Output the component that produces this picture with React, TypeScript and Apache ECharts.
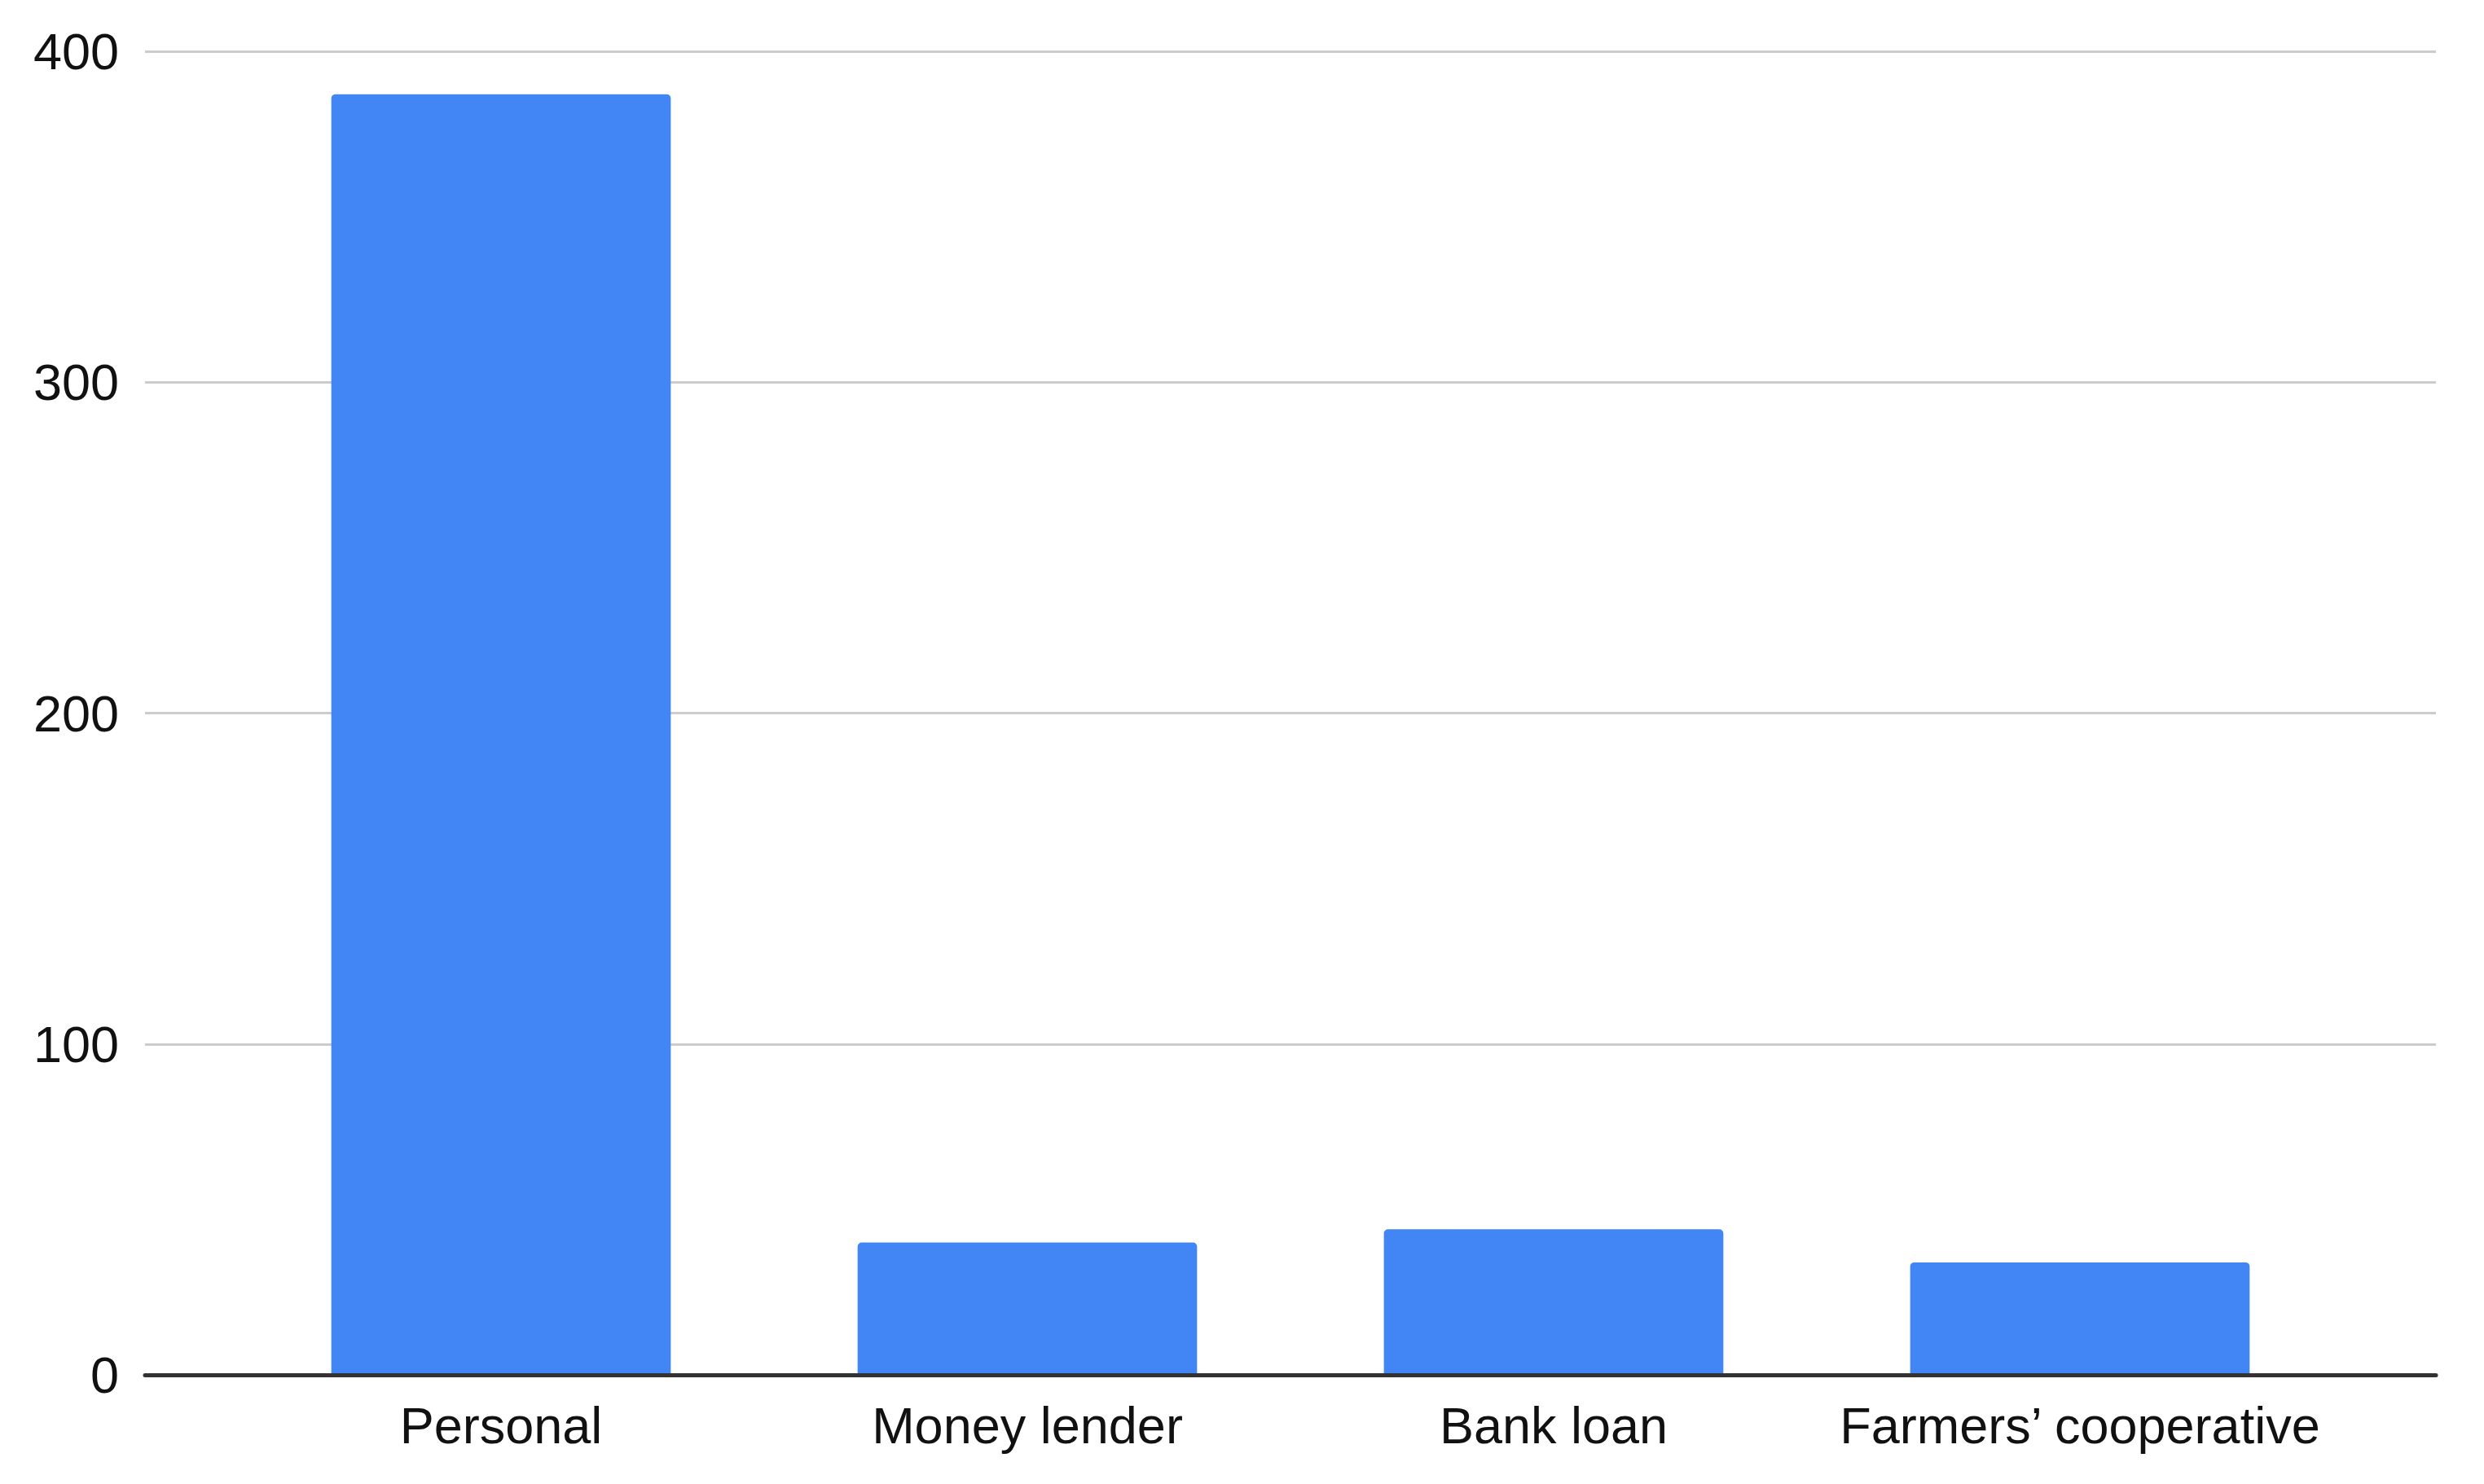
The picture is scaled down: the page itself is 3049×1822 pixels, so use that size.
import React, { useEffect, useRef } from "react";
import * as echarts from "echarts";

const categories = ["Personal", "Money lender", "Bank loan", "Farmers’ cooperative"];
const values = [387, 40, 44, 34];
const yMin = 0;
const yMax = 400;
const yInterval = 100;

const FONT = "'Liberation Sans', Arial, Helvetica, sans-serif";

export default function App() {
  const ref = useRef<HTMLDivElement>(null);
  useEffect(() => {
    if (!ref.current) return;
    const chart = echarts.init(ref.current, undefined, { renderer: "svg" });
    chart.setOption({
      animation: false,
      backgroundColor: "#ffffff",
      grid: [
        { left: 178, right: 59, top: 63, height: 1625, containLabel: false },
        { left: 292, right: 173, top: 63, height: 1625, containLabel: false },
      ],
      xAxis: [
        {
          gridIndex: 0,
          type: "value",
          min: 0,
          max: 1,
          z: 5,
          axisLine: { show: true, onZero: false, lineStyle: { color: "#333333", width: 5 } },
          axisTick: { show: false },
          axisLabel: { show: false },
          splitLine: { show: false },
        },
        {
          gridIndex: 1,
          type: "category",
          data: categories,
          axisLine: { show: false },
          axisTick: { show: false },
          axisLabel: {
            show: true,
            margin: 30,
            fontSize: 63,
            fontFamily: FONT,
            color: "#111111",
            interval: 0,
          },
          splitLine: { show: false },
        },
      ],
      yAxis: [
        {
          gridIndex: 0,
          type: "value",
          min: yMin,
          max: yMax,
          interval: yInterval,
          axisLine: { show: false },
          axisTick: { show: false },
          axisLabel: {
            margin: 32,
            fontSize: 63,
            fontFamily: FONT,
            color: "#111111",
          },
          splitLine: { show: true, lineStyle: { color: "#cccccc", width: 3 } },
        },
        {
          gridIndex: 1,
          type: "value",
          min: yMin,
          max: yMax,
          interval: yInterval,
          show: false,
          splitLine: { show: false },
        },
      ],
      series: [
        {
          type: "bar",
          xAxisIndex: 1,
          yAxisIndex: 1,
          data: values,
          barWidth: "64.5%",
          itemStyle: { color: "#4285F4", borderRadius: [5, 5, 0, 0] },
        },
      ],
    });
    return () => chart.dispose();
  }, []);
  return (
    <div
      ref={ref}
      style={{ position: "fixed", left: 0, top: 0, width: 3049, height: 1822 }}
    />
  );
}
